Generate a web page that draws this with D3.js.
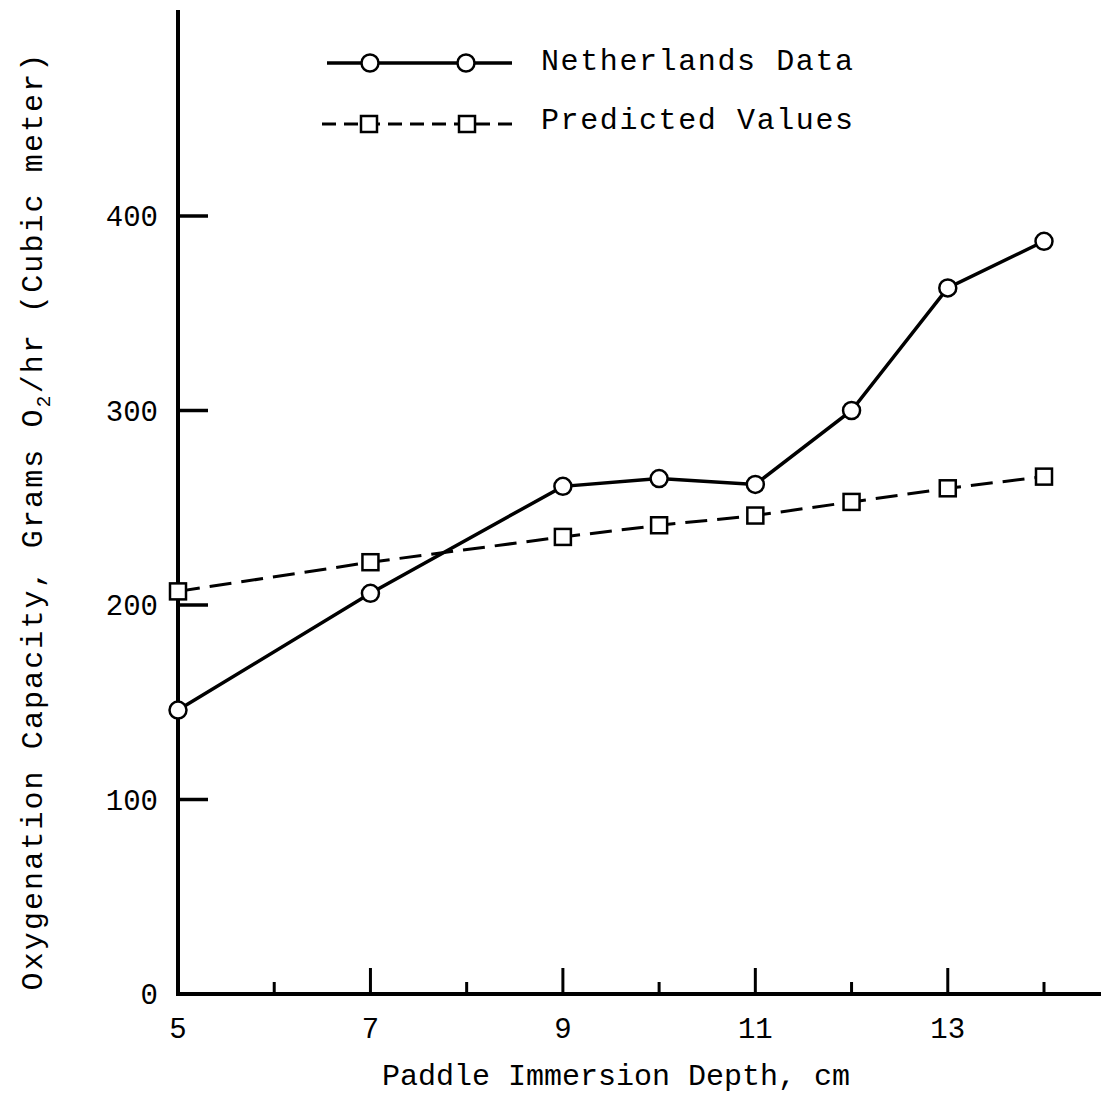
<!DOCTYPE html>
<html>
<head>
<meta charset="utf-8">
<script src="https://cdn.jsdelivr.net/npm/d3@7"></script>
<style>
  html, body { margin: 0; padding: 0; background: #fff; }
  svg { display: block; }
  text { font-family: "Courier New", "Liberation Mono", monospace; fill: #000; }
</style>
</head>
<body>
<div id="chart"></div>
<script>
// values
const depths = [5, 7, 9, 10, 11, 12, 13, 14];
const netherlands = [146, 206, 261, 265, 262, 300, 363, 387];
const predicted = [207, 222, 235, 241, 246, 253, 260, 266];
const xMajorTicks = [5, 7, 9, 11, 13];
const xMinorTicks = [6, 8, 10, 12, 14];
const yTicks = [0, 100, 200, 300, 400];

const width = 1101, height = 1095;
const svg = d3.select('#chart').append('svg')
    .attr('width', width)
    .attr('height', height);

const x = d3.scaleLinear().domain([5, 14]).range([178, 1044]);
const y = d3.scaleLinear().domain([0, 400]).range([994, 216]);

// axes
const axisG = svg.append('g');
axisG.append('line')
    .attr('x1', x(5)).attr('x2', x(5))
    .attr('y1', 10).attr('y2', y(0))
    .style('stroke', '#000').style('stroke-width', 4);
axisG.append('line')
    .attr('x1', x(5) - 2).attr('x2', 1101)
    .attr('y1', y(0)).attr('y2', y(0))
    .style('stroke', '#000').style('stroke-width', 4);

// y ticks point inward, labels left of the axis
yTicks.filter(d => d > 0).forEach(d => {
    axisG.append('line')
        .attr('x1', x(5)).attr('x2', x(5) + 30)
        .attr('y1', y(d)).attr('y2', y(d))
        .style('stroke', '#000').style('stroke-width', 3.5);
});
axisG.selectAll('.ylab')
    .data(yTicks)
    .join('text')
    .attr('class', 'ylab')
    .attr('x', 158)
    .attr('y', d => y(d) + 10)
    .attr('text-anchor', 'end')
    .style('font-size', '29px')
    .text(d => d);

// x ticks: long at labelled odd depths, short at even depths
axisG.selectAll('.xmaj')
    .data(xMajorTicks.filter(d => d > 5))
    .join('line')
    .attr('class', 'xmaj')
    .attr('x1', d => x(d)).attr('x2', d => x(d))
    .attr('y1', y(0)).attr('y2', y(0) - 26)
    .style('stroke', '#000').style('stroke-width', 3);
axisG.selectAll('.xmin')
    .data(xMinorTicks)
    .join('line')
    .attr('class', 'xmin')
    .attr('x1', d => x(d)).attr('x2', d => x(d))
    .attr('y1', y(0)).attr('y2', y(0) - 12)
    .style('stroke', '#000').style('stroke-width', 3);
axisG.selectAll('.xlab')
    .data(xMajorTicks)
    .join('text')
    .attr('class', 'xlab')
    .attr('x', d => x(d))
    .attr('y', 1038)
    .attr('text-anchor', 'middle')
    .style('font-size', '29px')
    .text(d => d);

// axis titles
svg.append('text')
    .attr('x', 616)
    .attr('y', 1085)
    .attr('text-anchor', 'middle')
    .style('font-size', '30px')
    .text('Paddle Immersion Depth, cm');

const yTitle = svg.append('text')
    .attr('transform', 'translate(42,521) rotate(-90)')
    .attr('text-anchor', 'middle')
    .style('font-size', '30px')
    .style('letter-spacing', '2.1px');
yTitle.append('tspan').text('Oxygenation Capacity, Grams O');
yTitle.append('tspan').attr('dy', 8).style('font-size', '20px').text('2');
yTitle.append('tspan').attr('dy', -8).text('/hr (Cubic meter)');

// series
const line = d3.line()
    .x((d, i) => x(depths[i]))
    .y(d => y(d));

svg.append('path')
    .datum(predicted)
    .attr('d', line)
    .style('fill', 'none')
    .style('stroke', '#000')
    .style('stroke-width', 3)
    .style('stroke-dasharray', '22,10');

svg.append('path')
    .datum(netherlands)
    .attr('d', line)
    .style('fill', 'none')
    .style('stroke', '#000')
    .style('stroke-width', 3.5);

svg.selectAll('.sq')
    .data(predicted)
    .join('rect')
    .attr('class', 'sq')
    .attr('x', (d, i) => x(depths[i]) - 8)
    .attr('y', d => y(d) - 8)
    .attr('width', 16).attr('height', 16)
    .style('fill', '#fff')
    .style('stroke', '#000')
    .style('stroke-width', 2.5);

svg.selectAll('.dot')
    .data(netherlands)
    .join('circle')
    .attr('class', 'dot')
    .attr('cx', (d, i) => x(depths[i]))
    .attr('cy', d => y(d))
    .attr('r', 8.5)
    .style('fill', '#fff')
    .style('stroke', '#000')
    .style('stroke-width', 2.5);

// legend
const legend = svg.append('g');
legend.append('line')
    .attr('x1', 327).attr('x2', 512)
    .attr('y1', 63).attr('y2', 63)
    .style('stroke', '#000').style('stroke-width', 3.5);
legend.selectAll('.lc')
    .data([370, 466])
    .join('circle')
    .attr('class', 'lc')
    .attr('cx', d => d).attr('cy', 63).attr('r', 8.5)
    .style('fill', '#fff').style('stroke', '#000').style('stroke-width', 2.5);
legend.append('text')
    .attr('x', 541).attr('y', 70)
    .style('font-size', '30px')
    .style('letter-spacing', '1.6px')
    .text('Netherlands Data');

legend.append('line')
    .attr('x1', 322).attr('x2', 512)
    .attr('y1', 124).attr('y2', 124)
    .style('stroke', '#000').style('stroke-width', 3)
    .style('stroke-dasharray', '14,8');
legend.selectAll('.ls')
    .data([369, 467])
    .join('rect')
    .attr('class', 'ls')
    .attr('x', d => d - 8).attr('y', 116)
    .attr('width', 16).attr('height', 16)
    .style('fill', '#fff').style('stroke', '#000').style('stroke-width', 2.5);
legend.append('text')
    .attr('x', 541).attr('y', 129)
    .style('font-size', '30px')
    .style('letter-spacing', '1.6px')
    .text('Predicted Values');
</script>
</body>
</html>
